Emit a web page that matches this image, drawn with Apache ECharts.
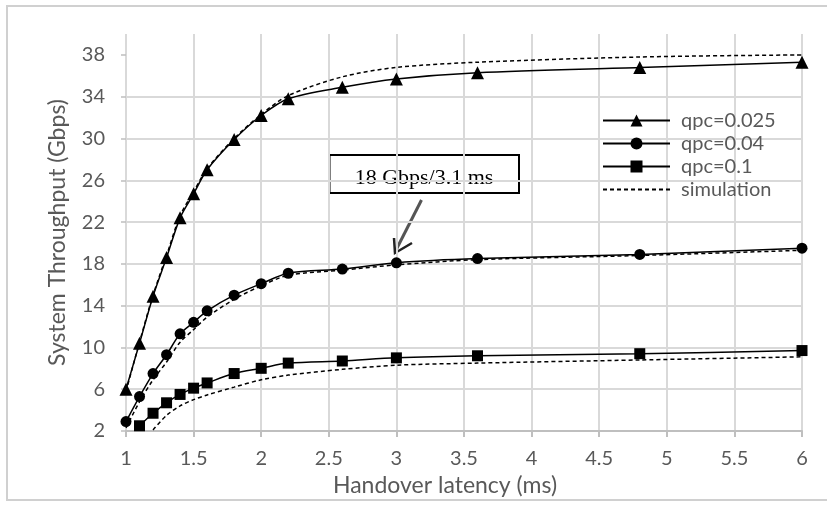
<!DOCTYPE html>
<html>
<head>
<meta charset="utf-8">
<script src="https://cdn.jsdelivr.net/npm/echarts@6/dist/echarts.min.js"></script>
<style>
  html, body { margin: 0; padding: 0; background: #fff; }
  #chart { width: 827px; height: 508px; }
</style>
</head>
<body>
<div id="chart"></div>
<script>
// handover latency (ms)
const latency = [1, 1.1, 1.2, 1.3, 1.4, 1.5, 1.6, 1.8, 2, 2.2, 2.6, 3, 3.6, 4.8, 6];
// model curves
const qpc025 = [6.0, 10.4, 14.9, 18.6, 22.4, 24.7, 27.0, 29.9, 32.2, 33.8, 34.9, 35.7, 36.3, 36.8, 37.3];
const qpc04 = [2.9, 5.3, 7.5, 9.3, 11.3, 12.4, 13.5, 15.0, 16.1, 17.1, 17.5, 18.1, 18.5, 18.9, 19.5];
const qpc1 = [null, 2.5, 3.7, 4.7, 5.5, 6.1, 6.6, 7.5, 8.0, 8.5, 8.7, 9.0, 9.2, 9.4, 9.7];
// simulation curves
const sim025 = [5.8, 10.5, 15.0, 18.8, 22.6, 24.9, 27.1, 30.0, 32.3, 34.1, 35.9, 36.8, 37.3, 37.8, 38.0];
const sim04 = [2.3, 4.8, 6.9, 8.6, 10.5, 11.7, 12.9, 14.6, 15.9, 16.9, 17.4, 17.9, 18.4, 18.8, 19.3];
const sim1 = [null, null, 2.1, 3.5, 4.4, 5.0, 5.45, 6.2, 6.9, 7.35, 7.9, 8.3, 8.5, 8.8, 9.1];
const yTicks = [2, 6, 10, 14, 18, 22, 26, 30, 34, 38];

const FONT = 'Lato';
const pair = arr => latency.map((x, i) => [x, arr[i]]);

function modelSeries(name, data, symbol, size) {
  return {
    name: name,
    type: 'line',
    data: pair(data),
    smooth: 0.3,
    symbol: symbol,
    symbolSize: size,
    showSymbol: true,
    itemStyle: { color: '#000' },
    lineStyle: { color: '#000', width: 1.5 },
    z: 3
  };
}
function simSeries(data) {
  return {
    name: 'simulation',
    type: 'line',
    data: pair(data),
    smooth: 0.3,
    symbol: 'none',
    itemStyle: { color: '#000' },
    lineStyle: { color: '#000', width: 1.5, type: [4, 3] },
    z: 2
  };
}

const chart = echarts.init(document.getElementById('chart'));
chart.setOption({
  animation: false,
  backgroundColor: '#fff',
  grid: { left: 126, right: 25, top: 34, bottom: 77 },
  xAxis: {
    type: 'value',
    min: 1,
    max: 6,
    interval: 0.5,
    name: 'Handover latency (ms)',
    nameLocation: 'middle',
    nameGap: 40,
    nameTextStyle: { fontFamily: FONT, fontSize: 23, color: '#595959', padding: [0, 38, 0, 0] },
    axisLine: { lineStyle: { color: '#bfbfbf', width: 2 } },
    axisTick: { show: true, length: 6, lineStyle: { color: '#bfbfbf', width: 2 } },
    axisLabel: { margin: 18, fontFamily: FONT, fontSize: 20, color: '#595959' },
    splitLine: { lineStyle: { color: '#d9d9d9', width: 2 } }
  },
  yAxis: {
    type: 'value',
    min: 2,
    max: 40,
    interval: 4,
    name: 'System Throughput (Gbps)',
    nameLocation: 'middle',
    nameGap: 57,
    nameTextStyle: { fontFamily: FONT, fontSize: 23, color: '#595959' },
    axisLine: { show: false },
    axisTick: { show: true, length: 5, customValues: yTicks, lineStyle: { color: '#bfbfbf', width: 1.5 } },
    axisLabel: { margin: 21, fontFamily: FONT, fontSize: 20, color: '#595959', customValues: yTicks },
    splitLine: { showMaxLine: false, lineStyle: { color: '#d9d9d9', width: 2 } }
  },
  legend: {
    orient: 'vertical',
    left: 597,
    top: 104,
    itemWidth: 67,
    itemHeight: 15,
    itemGap: 0,
    data: ['qpc=0.025', 'qpc=0.04', 'qpc=0.1', { name: 'simulation', itemStyle: { opacity: 0 } }],
    textStyle: { fontFamily: FONT, fontSize: 20, color: '#595959', lineHeight: 23, padding: [0, 0, 0, 6] }
  },
  series: [
    modelSeries('qpc=0.025', qpc025, 'triangle', 13),
    modelSeries('qpc=0.04', qpc04, 'circle', 11),
    modelSeries('qpc=0.1', qpc1, 'rect', 11),
    simSeries(sim025),
    simSeries(sim04),
    simSeries(sim1)
  ],
  graphic: [
    {
      type: 'rect',
      silent: true,
      z: -10,
      shape: { x: 7, y: 6, width: 840, height: 494 },
      style: { fill: null, stroke: '#d0d0d0', lineWidth: 2 }
    },
    {
      type: 'group',
      z: 100,
      children: [
        {
          type: 'rect',
          shape: { x: 329.5, y: 155, width: 189.5, height: 38 },
          style: { fill: '#fff', stroke: '#000', lineWidth: 2 }
        },
        {
          type: 'text',
          x: 424,
          y: 178,
          style: {
            text: '18 Gbps/3.1 ms',
            fontFamily: 'Liberation Serif',
            fontSize: 22,
            fill: '#000',
            align: 'center',
            verticalAlign: 'middle'
          }
        },
        {
          type: 'line',
          shape: { x1: 421.5, y1: 200, x2: 395, y2: 252 },
          style: { stroke: '#555', lineWidth: 3 }
        },
        {
          type: 'polyline',
          shape: { points: [[394, 238], [395, 253], [412, 243]] },
          style: { stroke: '#222', lineWidth: 2.5, fill: null }
        }
      ]
    }
  ]
});
</script>
</body>
</html>
